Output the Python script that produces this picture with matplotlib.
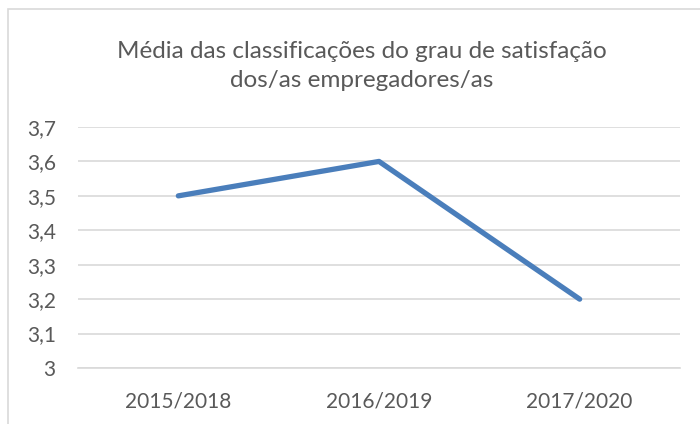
import matplotlib.pyplot as plt
from matplotlib.patches import Rectangle

periodos = ['2015/2018', '2016/2019', '2017/2020']
media = [3.5, 3.6, 3.2]
yticks = [3.0, 3.1, 3.2, 3.3, 3.4, 3.5, 3.6, 3.7]
ylabels = ['3', '3,1', '3,2', '3,3', '3,4', '3,5', '3,6', '3,7']

plt.rcParams['font.family'] = ['Lato', 'DejaVu Sans']
texto = '#595959'

fig = plt.figure(figsize=(7, 4.24), dpi=100)
W, H = 700, 424
# moldura do grafico
fig.patches.append(Rectangle((8 / W, -0.1), 1.2, 1 - 9 / H + 0.1,
                             transform=fig.transFigure, fill=False,
                             edgecolor='#d9d9d9', linewidth=1.2))

ax = fig.add_axes([78 / W, 1 - 368 / H, 602 / W, 241 / H])
x = range(len(periodos))
ax.plot(x, media, color='#4a7ebb', linewidth=3.8, solid_capstyle='round',
        solid_joinstyle='round', zorder=3)
ax.set_xlim(-0.5, len(periodos) - 0.5)
ax.set_ylim(3.0, 3.7)
ax.set_yticks(yticks)
ax.set_yticklabels(ylabels)
ax.set_xticks(list(x))
ax.set_xticklabels(periodos)
ax.yaxis.grid(True, color='#d9d9d9', linewidth=1.2)
ax.set_axisbelow(True)
for s in ['top', 'right', 'left']:
    ax.spines[s].set_visible(False)
ax.spines['bottom'].set_color('#d9d9d9')
ax.spines['bottom'].set_linewidth(1.2)
ax.tick_params(length=0, labelsize=15, colors=texto)
ax.tick_params(axis='y', pad=16)
ax.tick_params(axis='x', pad=17)

fig.text(362 / W, 1 - 66 / H,
         'Média das classificações do grau de satisfação\ndos/as empregadores/as',
         ha='center', va='center', fontsize=17.5, color=texto, linespacing=1.45)

fig.savefig('out.png', dpi=100)
